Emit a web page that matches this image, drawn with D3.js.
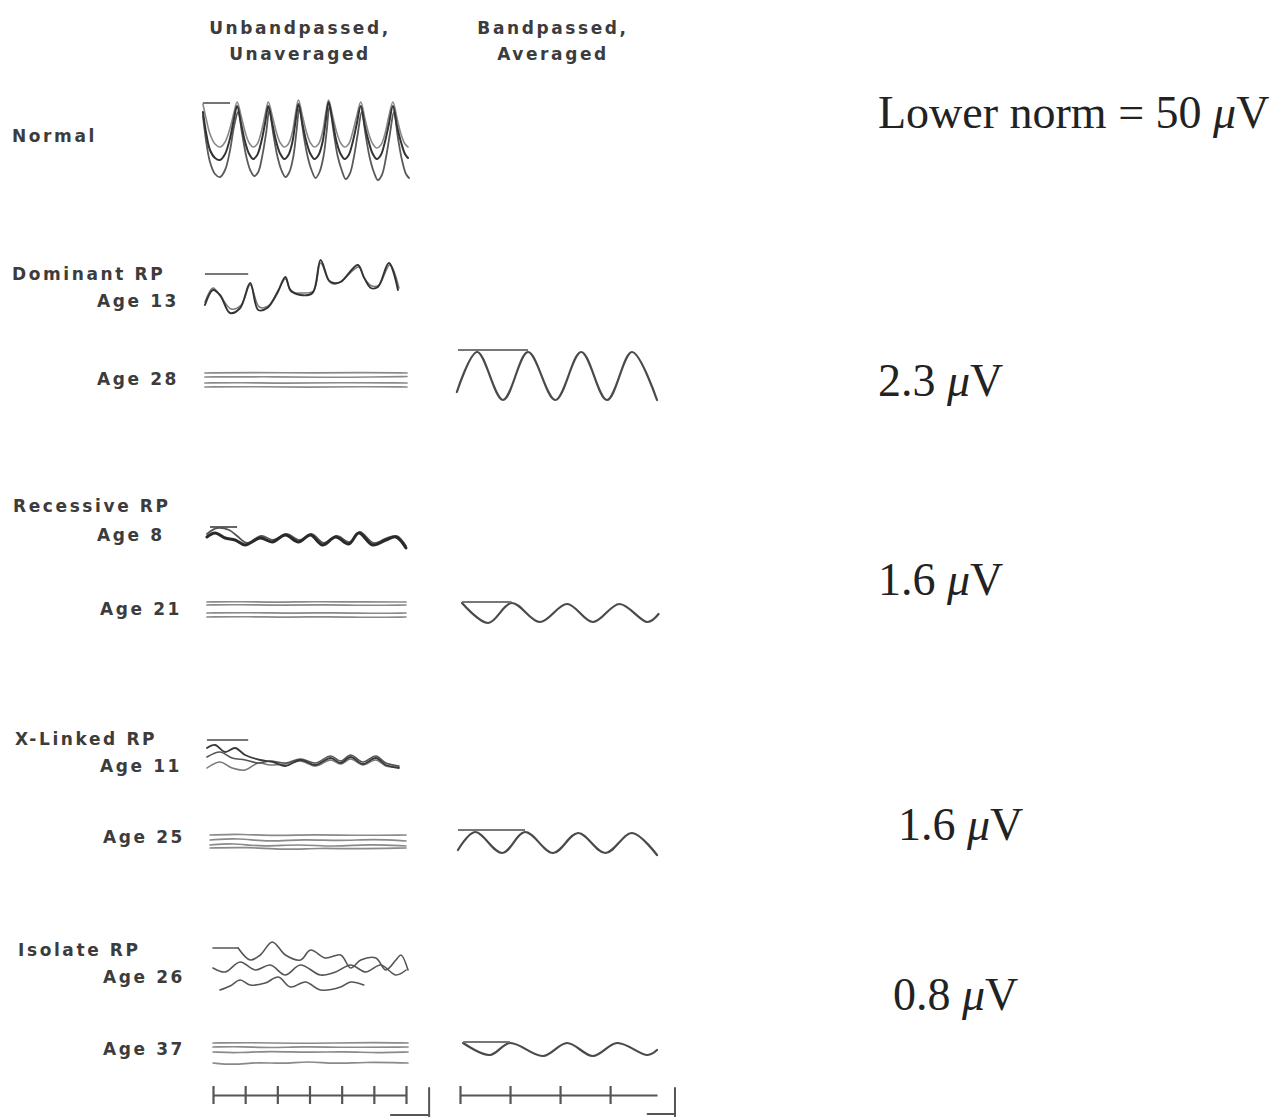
<!DOCTYPE html>
<html>
<head>
<meta charset="utf-8">
<script src="https://cdn.jsdelivr.net/npm/d3@7"></script>
<style>
  body { margin: 0; background: #fff; }
  .lbl { font-family: "DejaVu Sans", sans-serif; font-weight: bold; font-size: 17px; letter-spacing: 2.6px; fill: #3c3c3c; }
  .amp { font-family: "Liberation Serif", "Times New Roman", serif; font-size: 46px; fill: #222; }
</style>
</head>
<body>
<svg id="chart" width="1275" height="1117"></svg>
<script>
// ---- labels ----
var columnTitles = [["Unbandpassed,", "Unaveraged"], ["Bandpassed,", "Averaged"]];
var groupLabels = ["Normal", "Dominant RP", "Recessive RP", "X-Linked RP", "Isolate RP"];
var ageLabels = ["Age 13", "Age 28", "Age 8", "Age 21", "Age 11", "Age 25", "Age 26", "Age 37"];
var amplitudeLabels = ["Lower norm = 50 ", "2.3 ", "1.6 ", "1.6 ", "0.8 "];

// time ticks (ms), one flicker period apart
var rawTicks = [0, 32, 64, 96, 128, 160, 192];
var avgTicks = [0, 32, 64, 96];

// ---- traces: [time ms, amplitude] ----
var normalA = [[-10,30],[-7,10],[-3,-8],[2,-16],[7,-18],[12,-12],[17,4],[21,24],[24,36],
  [28,18],[32,0],[36,-12],[40,-17],[44,-13],[48,0],[52,20],[55,36],
  [59,18],[63,0],[67,-12],[71,-17],[75,-13],[79,0],[82,20],[85,38],
  [89,18],[93,0],[97,-12],[101,-17],[105,-13],[109,0],[112,20],[115,40],
  [119,20],[123,0],[127,-12],[131,-17],[135,-13],[139,0],[143,18],[147,36],
  [151,16],[155,0],[159,-12],[163,-17],[167,-13],[171,0],[175,18],[179,36],
  [183,16],[187,0],[191,-12],[194,-16]];
var normalB = [[-10,26],[-7,2],[-3,-20],[2,-32],[7,-35],[12,-28],[17,-8],[21,16],[25,30],
  [29,8],[33,-14],[37,-28],[41,-34],[45,-30],[49,-14],[53,10],[56,32],
  [60,8],[64,-14],[68,-28],[72,-35],[76,-30],[80,-14],[83,10],[86,34],
  [90,8],[94,-14],[98,-28],[102,-36],[106,-30],[110,-14],[113,10],[116,36],
  [120,10],[124,-14],[128,-28],[132,-37],[136,-32],[140,-16],[144,8],[148,30],
  [152,6],[156,-16],[160,-30],[164,-38],[168,-33],[172,-16],[176,8],[180,30],
  [184,4],[188,-18],[192,-32],[195,-36]];
var normalC = [[-10,38],[-7,24],[-3,8],[2,-2],[7,-5],[12,0],[17,14],[21,30],[24,40],
  [28,26],[32,10],[36,-1],[40,-5],[44,-2],[48,10],[52,28],[55,40],
  [59,26],[63,10],[67,-1],[71,-5],[75,-2],[79,10],[82,28],[85,42],
  [89,26],[93,10],[97,-1],[101,-5],[105,-2],[109,10],[112,28],[115,42],
  [119,26],[123,10],[127,-1],[131,-5],[135,-2],[139,10],[143,26],[147,40],
  [151,24],[155,8],[159,-2],[163,-6],[167,-3],[171,8],[175,26],[179,40],
  [183,24],[187,8],[191,-2],[194,-5]];

var dom13A = [[-8,-18],[0,-3],[7,-8],[17,-26],[27,-21],[37,4],[45,-23],[54,-21],[64,-6],[72,10],[77,-3],[87,-8],[99,-6],[107,27],[115,7],[120,4],[127,5],[144,22],[150,10],[157,-1],[164,0],[175,24],[184,-3]];
var dom13B = [[-8,-15],[0,-1],[8,-10],[18,-22],[28,-18],[37,2],[46,-20],[55,-19],[65,-3],[72,8],[78,-5],[88,-6],[100,-4],[107,24],[116,5],[121,3],[128,6],[145,20],[151,8],[158,1],[165,2],[176,22],[185,-1]];

var dom28Raw = [
  [[-8,7],[40,7.5],[100,7],[150,7.5],[193,7]],
  [[-8,3],[50,3.5],[110,2.5],[160,3],[193,3.5]],
  [[-8,-3],[30,-2.5],[70,-3.5],[120,-2.5],[193,-3]],
  [[-8,-7],[45,-6.5],[95,-7.5],[145,-6.5],[193,-7]]
];

var rec8A = [[-6,3],[2,7],[12,2],[22,0],[32,-5],[47,2],[59,-2],[72,5],[85,-2],[97,5],[109,-5],[122,3],[135,-4],[145,7],[159,-5],[172,0],[182,3],[192,-8]];
var rec8B = [[-6,6],[4,12],[16,10],[24,4],[34,-3],[48,4],[60,0],[73,6],[86,0],[98,6],[110,-3],[123,4],[136,-2],[146,8],[160,-3],[173,2],[183,4],[192,-6]];

var rec21Raw = [
  [[-6,8],[30,8.5],[60,7.5],[100,8.5],[140,8],[192,8]],
  [[-6,5],[25,5.5],[70,4.5],[110,5.5],[150,4.5],[192,5]],
  [[-6,-3],[40,-2.5],[80,-3.5],[120,-2.5],[160,-3.5],[192,-3]],
  [[-6,-7],[35,-6.5],[75,-7.5],[115,-6.5],[155,-7.5],[192,-7]]
];

var x11A = [[-6,9],[2,12],[12,5],[22,9],[32,2],[47,-3],[60,-5],[72,-9],[87,-3],[102,-8],[117,-1],[127,-6],[137,0],[149,-7],[162,-1],[172,-8],[185,-11]];
var x11B = [[-6,0],[7,5],[19,-1],[32,-3],[45,-6],[57,-4],[72,-6],[87,-2],[102,-6],[117,1],[127,-4],[137,2],[149,-5],[162,1],[172,-6],[185,-9]];
var x11C = [[-6,-11],[7,-5],[19,-11],[32,-13],[45,-6],[57,-8],[72,-7],[87,-4],[102,-9],[117,-3],[127,-7],[137,-2],[149,-8],[162,-3],[172,-9],[185,-10]];

var x25Raw = [
  [[-3,7],[30,8],[60,6],[100,7.5],[140,6.5],[192,7]],
  [[-3,2],[25,4],[55,0],[90,3],[125,1],[160,3],[192,1]],
  [[-3,-3],[20,-1],[50,-5],[85,-2],[120,-5],[155,-2],[192,-4]],
  [[-3,-6],[35,-5],[70,-8],[105,-6],[140,-7],[192,-6]]
];

var iso26A = [[25,20],[37,8],[47,13],[59,26],[72,13],[87,8],[97,18],[112,10],[127,13],[137,0],[147,8],[162,10],[172,-2],[182,8],[187,13],[194,-2]];
var iso26B = [[0,0],[12,-4],[27,6],[42,-2],[57,3],[72,-7],[87,3],[107,-7],[122,-4],[137,3],[152,-4],[167,3],[182,-7],[192,-2]];
var iso26C = [[7,-22],[17,-18],[27,-12],[37,-17],[52,-15],[65,-9],[77,-19],[92,-14],[107,-22],[127,-19],[137,-14],[150,-17]];
var iso26Mark = [[0, 20], [25, 20]];

var iso37Raw = [
  [[0,12],[40,12.5],[80,11.5],[120,12],[160,12.5],[194,12]],
  [[0,8],[30,8.5],[55,7],[90,8.5],[130,7.5],[194,8]],
  [[0,3],[25,2],[55,4],[95,2.5],[130,3.5],[165,2],[194,3]],
  [[0,-8],[20,-10],[45,-7],[70,-9],[95,-6],[120,-9],[150,-7],[194,-8]]
];

var dom28Avg = [[-2,-16],[11,24],[27.5,-24],[43.5,24],[61,-24],[77.5,24],[94,-24],[110,24],[126,-24]];
var rec21Avg = [[1.3,10],[18,-10],[33,10],[51,-9],[68.5,9],[85,-9],[102,9],[120,-9],[127,-1]];
var x25Avg = [[-1.3,-7],[9.6,11],[27,-10],[41.6,11],[59.5,-10],[75.5,10],[93,-10],[110,10],[126,-12]];
var iso37Avg = [[2,7],[19,-5],[32,7],[53,-6],[68.5,7],[85,-6],[100.5,7],[120,-5],[126,0]];

// stimulus / calibration markers: [start ms, end ms, level]
var rawMarks = { normal: [-10, 17, 39], dom13: [-8, 35, 13], rec8: [-3, 24, 13], x11: [-6, 35, 17] };
var avgMarks = { dom28: [-1.3, 43.5, 26], rec21: [1.3, 33, 11], x25: [-1.3, 41.6, 13], iso37: [2, 32, 8] };

// ---- layout ----
var svg = d3.select("#chart");
svg.append("rect").attr("width", 1275).attr("height", 1117).attr("fill", "#fff");

var xRaw = d3.scaleLinear().domain([0, 192]).range([213, 406]);
var xAvg = d3.scaleLinear().domain([0, 126]).range([460, 657]);

function yAt(center) {
  return d3.scaleLinear().domain([-50, 50]).range([center + 50, center - 50]);
}

function drawTrace(data, x, y, opts) {
  var line = d3.line()
    .x(function(d) { return x(d[0]); })
    .y(function(d) { return y(d[1]); })
    .curve(opts.curve || d3.curveCatmullRom.alpha(0.5));
  svg.append("path")
    .datum(data)
    .attr("d", line)
    .attr("fill", "none")
    .attr("stroke", opts.color || "#4a4a4a")
    .attr("stroke-width", opts.width || 1.6)
    .attr("stroke-linejoin", "round")
    .attr("stroke-linecap", "round");
}

function drawMark(m, x, y, color) {
  svg.append("line")
    .attr("x1", x(m[0])).attr("x2", x(m[1]))
    .attr("y1", y(m[2])).attr("y2", y(m[2]))
    .attr("stroke", color || "#555").attr("stroke-width", 1.8);
}

// normal
var yN = yAt(142);
drawTrace(normalC, xRaw, yN, { color: "#888", width: 1.6 });
drawTrace(normalB, xRaw, yN, { color: "#5a5a5a", width: 1.8 });
drawTrace(normalA, xRaw, yN, { color: "#333", width: 2 });
drawMark(rawMarks.normal, xRaw, yN, "#666");

// dominant
var yD13 = yAt(287);
drawTrace(dom13B, xRaw, yD13, { color: "#777", width: 1.5 });
drawTrace(dom13A, xRaw, yD13, { color: "#333", width: 1.9 });
drawMark(rawMarks.dom13, xRaw, yD13, "#777");
var yD28 = yAt(380);
dom28Raw.forEach(function(tr) { drawTrace(tr, xRaw, yD28, { color: "#8a8a8a", width: 1.7, curve: d3.curveBasis }); });
var yD28a = yAt(376);
drawTrace(dom28Avg, xAvg, yD28a, { color: "#4a4a4a", width: 2.2 });
drawMark(avgMarks.dom28, xAvg, yD28a, "#777");

// recessive
var yR8 = yAt(540);
drawTrace(rec8B, xRaw, yR8, { color: "#555", width: 1.8 });
drawTrace(rec8A, xRaw, yR8, { color: "#2a2a2a", width: 3 });
drawMark(rawMarks.rec8, xRaw, yR8);
var yR21 = yAt(610);
rec21Raw.forEach(function(tr) { drawTrace(tr, xRaw, yR21, { color: "#8a8a8a", width: 1.7, curve: d3.curveBasis }); });
var yR21a = yAt(613);
drawTrace(rec21Avg, xAvg, yR21a, { color: "#4a4a4a", width: 2.2 });
drawMark(avgMarks.rec21, xAvg, yR21a, "#777");

// x-linked
var yX11 = yAt(757);
drawTrace(x11C, xRaw, yX11, { color: "#777", width: 1.5 });
drawTrace(x11B, xRaw, yX11, { color: "#555", width: 1.6 });
drawTrace(x11A, xRaw, yX11, { color: "#3a3a3a", width: 1.8 });
drawMark(rawMarks.x11, xRaw, yX11, "#777");
var yX25 = yAt(842);
x25Raw.forEach(function(tr) { drawTrace(tr, xRaw, yX25, { color: "#8a8a8a", width: 1.7, curve: d3.curveBasis }); });
var yX25a = yAt(843);
drawTrace(x25Avg, xAvg, yX25a, { color: "#4a4a4a", width: 2.2 });
drawMark(avgMarks.x25, xAvg, yX25a, "#777");

// isolate
var yI26 = yAt(968);
drawTrace(iso26C, xRaw, yI26, { color: "#555", width: 1.6 });
drawTrace(iso26B, xRaw, yI26, { color: "#555", width: 1.6 });
drawTrace(iso26A, xRaw, yI26, { color: "#555", width: 1.6 });
drawTrace(iso26Mark, xRaw, yI26, { color: "#555", width: 1.6, curve: d3.curveLinear });
var yI37 = yAt(1055);
iso37Raw.forEach(function(tr) { drawTrace(tr, xRaw, yI37, { color: "#8a8a8a", width: 1.7, curve: d3.curveBasis }); });
var yI37a = yAt(1050);
drawTrace(iso37Avg, xAvg, yI37a, { color: "#4a4a4a", width: 2.2 });
drawMark(avgMarks.iso37, xAvg, yI37a, "#777");

// time axes
function drawAxis(x, ticks) {
  var g = svg.append("g")
    .attr("transform", "translate(0,1095)")
    .call(d3.axisBottom(x).tickValues(ticks).tickSizeInner(9).tickSizeOuter(0).tickFormat(""));
  g.select(".domain").attr("stroke", "#555").attr("stroke-width", 2.2);
  g.selectAll(".tick line").attr("y1", -9).attr("stroke", "#555").attr("stroke-width", 2.2);
}
drawAxis(xRaw, rawTicks);
drawAxis(xAvg, avgTicks);

// amplitude/time calibration corners
var yCal = yAt(1095);
drawTrace([[177, -20], [215, -20], [215, 7], [215, -25]], xRaw, yCal, { color: "#555", width: 2, curve: d3.curveLinear });
drawTrace([[120, -19], [137.5, -19], [137.5, 7], [137.5, -25]], xAvg, yCal, { color: "#555", width: 2, curve: d3.curveLinear });

// ---- text ----
var titleX = [300, 553];
columnTitles.forEach(function(t, i) {
  t.forEach(function(s, j) {
    svg.append("text").attr("class", "lbl")
      .attr("x", titleX[i]).attr("y", 34 + j * 26)
      .attr("text-anchor", "middle").text(s);
  });
});

var groupY = [142, 280, 512, 745, 956];
var groupX = [12, 12, 13, 15, 18];
groupLabels.forEach(function(s, i) {
  svg.append("text").attr("class", "lbl").attr("x", groupX[i]).attr("y", groupY[i]).text(s);
});

var ageY = [307, 385, 541, 615, 772, 843, 983, 1055];
var ageX = [97, 97, 97, 100, 100, 103, 103, 103];
ageLabels.forEach(function(s, i) {
  svg.append("text").attr("class", "lbl").attr("x", ageX[i]).attr("y", ageY[i]).text(s);
});

var ampY = [128, 396, 595, 840, 1010];
var ampX = [878, 878, 878, 898, 893];
amplitudeLabels.forEach(function(s, i) {
  var t = svg.append("text").attr("class", "amp").attr("x", ampX[i]).attr("y", ampY[i]);
  t.append("tspan").text(s);
  t.append("tspan").attr("font-style", "italic").text("\u03bc");
  t.append("tspan").text("V");
});
</script>
</body>
</html>
